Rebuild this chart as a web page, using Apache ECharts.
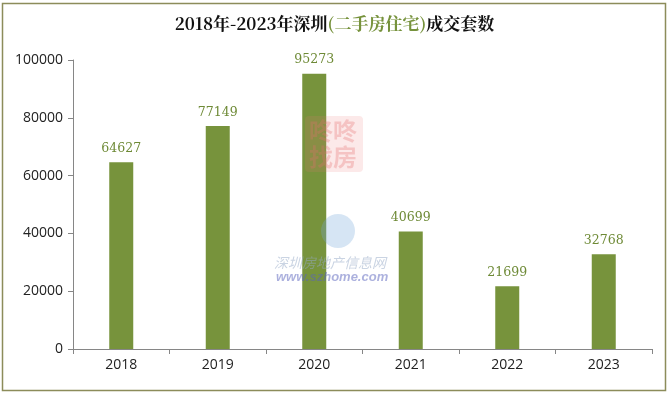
<!DOCTYPE html>
<html><head><meta charset="utf-8">
<script src="https://cdn.jsdelivr.net/npm/echarts@6/dist/echarts.min.js"></script>
<style>html,body{margin:0;padding:0;background:#fff}#c{width:669px;height:394px}</style>
</head><body><div id="c"></div>
<script>
var categories = ['2018', '2019', '2020', '2021', '2022', '2023'];
var deals = [64627, 77149, 95273, 40699, 21699, 32768];
var yTicks = [0, 20000, 40000, 60000, 80000, 100000];

var chart = echarts.init(document.getElementById('c'), null, {renderer: 'canvas'});
var green = '#77933C';
chart.setOption({
  animation: false,
  backgroundColor: '#ffffff',
  title: {
    text: '{b|2018年-2023年深圳}{g|(二手房住宅)}{b|成交套数}',
    left: 'center', top: 10,
    textStyle: {
      rich: {
        b: {fontFamily: '"Noto Serif CJK SC","Noto Sans CJK SC",serif', fontWeight: 'bold', fontSize: 17, color: '#111'},
        g: {fontFamily: '"Noto Serif CJK SC","Noto Sans CJK SC",serif', fontWeight: 'bold', fontSize: 17, color: '#76923C'}
      }
    }
  },
  graphic: [
    {type: 'rect', shape: {x: 2.5, y: 3.5, width: 663, height: 387}, style: {fill: 'none', stroke: '#8C8C5A', lineWidth: 1.5}, silent: true, z: -1},
    {type: 'rect', shape: {x: 305, y: 116, width: 58, height: 56, r: 4}, style: {fill: 'rgba(235,120,120,0.16)'}, z: 10},
    {type: 'text', left: 309, top: 118, style: {text: '咚咚\n找房', fontSize: 24, lineHeight: 26, fontFamily: '"Noto Sans CJK SC"', fontWeight: 'bold', fill: 'rgba(230,110,110,0.3)'}, z: 11},
    {type: 'circle', shape: {cx: 338, cy: 231, r: 17}, style: {fill: 'rgba(120,170,220,0.3)'}, z: 10},
    {type: 'text', left: 274, top: 256, style: {text: '深圳房地产信息网', fontSize: 14, fontStyle: 'italic', fontFamily: '"Noto Sans CJK SC"', fill: 'rgba(150,170,200,0.5)'}, z: 11},
    {type: 'text', left: 276, top: 271, style: {text: 'www.szhome.com', fontSize: 13, fontStyle: 'italic', fontWeight: 'bold', fontFamily: 'Liberation Sans', fill: 'rgba(90,100,190,0.5)'}, z: 11}
  ],
  grid: {left: 73, right: 17, top: 60, bottom: 45},
  xAxis: {
    type: 'category', data: categories, boundaryGap: true,
    axisLine: {lineStyle: {color: '#868686'}},
    axisTick: {show: true, length: 5, lineStyle: {color: '#868686'}},
    axisLabel: {color: '#222', fontSize: 14, fontFamily: '"Open Sans", sans-serif', margin: 9}
  },
  yAxis: {
    type: 'value', min: yTicks[0], max: yTicks[yTicks.length - 1], interval: 20000,
    axisLine: {show: true, lineStyle: {color: '#868686'}},
    axisTick: {show: true, length: 5, lineStyle: {color: '#868686'}},
    splitLine: {show: false},
    axisLabel: {color: '#222', fontSize: 14, fontFamily: '"Open Sans", sans-serif', margin: 10, formatter: function (v) { return String(v); }}
  },
  series: [{
    type: 'bar', data: deals, barWidth: 24,
    itemStyle: {color: green},
    label: {show: true, position: 'top', distance: 7, color: '#6E8A36', fontSize: 12.5, fontFamily: '"DejaVu Serif", serif', fontWeight: 'normal'}
  }]
});
</script></body></html>
